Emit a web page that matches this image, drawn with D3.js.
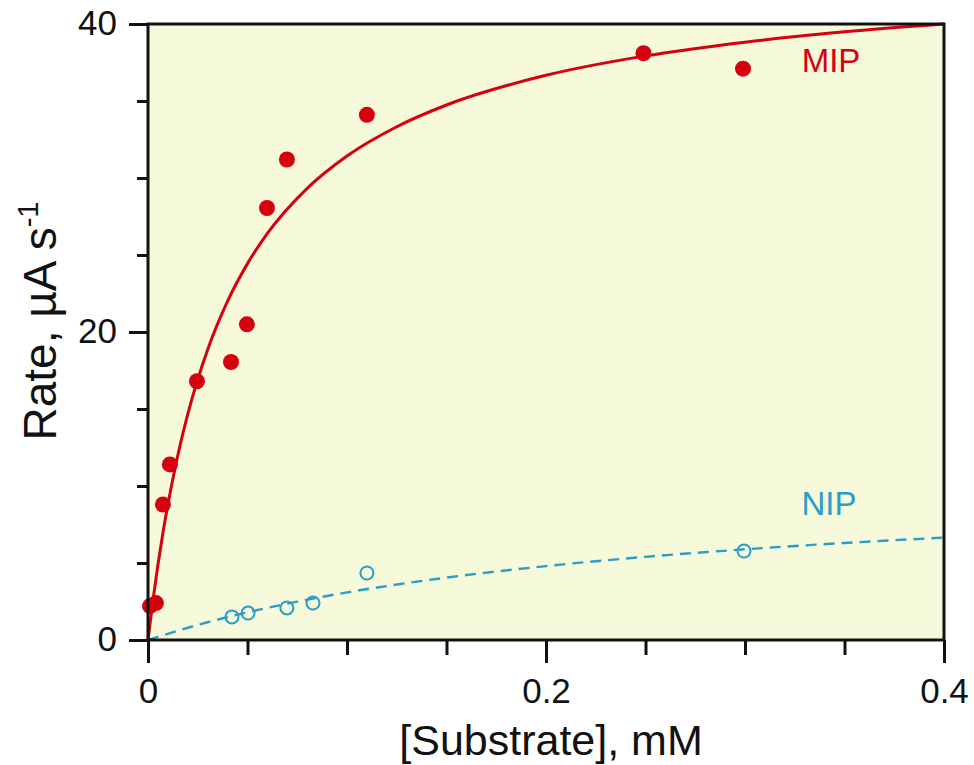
<!DOCTYPE html>
<html>
<head>
<meta charset="utf-8">
<script src="https://cdn.jsdelivr.net/npm/d3@7"></script>
<style>
  html, body { margin: 0; padding: 0; background: #fff; }
  svg { display: block; font-family: "Liberation Sans", Arial, sans-serif; }
</style>
</head>
<body>
<svg id="chart" width="974" height="765"></svg>
<script>
// Measured rates, MIP electrode (filled) and NIP electrode (open)
const mipSubstrate = [0.001, 0.004, 0.0075, 0.011, 0.0246, 0.0417, 0.0497, 0.0598, 0.0698, 0.110, 0.249, 0.299];
const mipRate      = [2.2, 2.4, 8.8, 11.4, 16.8, 18.05, 20.5, 28.05, 31.2, 34.1, 38.1, 37.1];
const nipSubstrate = [0.0422, 0.0503, 0.0698, 0.0829, 0.110, 0.2995];
const nipRate      = [1.5, 1.75, 2.08, 2.4, 4.35, 5.78];

// Fitted saturation curves
const mipFitX = [0, 0.0025, 0.005, 0.0075, 0.01, 0.015, 0.02, 0.03, 0.04, 0.05, 0.06, 0.08, 0.1, 0.125, 0.15, 0.2, 0.25, 0.3, 0.35, 0.4];
const mipFitY = [0, 2.59, 4.89, 6.95, 8.8, 12.0, 14.67, 18.86, 22.0, 24.44, 26.4, 29.33, 31.43, 33.33, 34.74, 36.67, 37.93, 38.82, 39.49, 40.0];
const nipFitX = [0, 0.025, 0.05, 0.075, 0.1, 0.125, 0.15, 0.2, 0.25, 0.3, 0.35, 0.4];
const nipFitY = [0, 0.98, 1.8, 2.49, 3.09, 3.6, 4.05, 4.8, 5.4, 5.89, 6.3, 6.65];

const xMajorTicks = [0, 0.2, 0.4];
const xMinorTicks = [0.05, 0.1, 0.15, 0.25, 0.3, 0.35];
const yMajorTicks = [0, 20, 40];
const yMinorTicks = [5, 10, 15, 25, 30, 35];

const seriesLabels = ["MIP", "NIP"];

const svg = d3.select("#chart");
const plot = { left: 148, right: 944, top: 24, bottom: 640 };

const x = d3.scaleLinear().domain([0, 0.4]).range([plot.left, plot.right]);
const y = d3.scaleLinear().domain([0, 40]).range([plot.bottom, plot.top]);

const red = "#d7000f";
const blue = "#2a9dc8";

// Plot background
svg.append("rect")
  .attr("x", plot.left).attr("y", plot.top)
  .attr("width", plot.right - plot.left).attr("height", plot.bottom - plot.top)
  .attr("fill", "#f6f9da");

// Fit lines
const line = d3.line().x(d => x(d[0])).y(d => y(d[1])).curve(d3.curveMonotoneX);

svg.append("path")
  .datum(nipFitX.map((v, i) => [v, nipFitY[i]]))
  .attr("d", line)
  .attr("fill", "none")
  .attr("stroke", blue)
  .attr("stroke-width", 2.4)
  .attr("stroke-dasharray", "11,7");

svg.append("path")
  .datum(mipFitX.map((v, i) => [v, mipFitY[i]]))
  .attr("d", line)
  .attr("fill", "none")
  .attr("stroke", red)
  .attr("stroke-width", 3);

// Data points
svg.append("g").selectAll("circle")
  .data(nipSubstrate.map((v, i) => [v, nipRate[i]]))
  .join("circle")
  .attr("cx", d => x(d[0])).attr("cy", d => y(d[1]))
  .attr("r", 6.5)
  .attr("fill", "none")
  .attr("stroke", blue)
  .attr("stroke-width", 2);

svg.append("g").selectAll("circle")
  .data(mipSubstrate.map((v, i) => [v, mipRate[i]]))
  .join("circle")
  .attr("cx", d => x(d[0])).attr("cy", d => y(d[1]))
  .attr("r", 8)
  .attr("fill", red);

// Frame
svg.append("rect")
  .attr("x", plot.left).attr("y", plot.top)
  .attr("width", plot.right - plot.left).attr("height", plot.bottom - plot.top)
  .attr("fill", "none")
  .attr("stroke", "#111")
  .attr("stroke-width", 3);

// Axes
const xMajor = d3.axisBottom(x).tickValues(xMajorTicks).tickSize(23).tickPadding(15)
  .tickFormat(d => d === 0 ? "0" : d3.format(".1f")(d));
const xMinor = d3.axisBottom(x).tickValues(xMinorTicks).tickSize(15).tickFormat("");
const yMajor = d3.axisLeft(y).tickValues(yMajorTicks).tickSize(19).tickPadding(12);
const yMinor = d3.axisLeft(y).tickValues(yMinorTicks).tickSize(11).tickFormat("");

function styleAxis(g) {
  g.select(".domain").remove();
  g.selectAll(".tick line").attr("stroke", "#111").attr("stroke-width", 3);
  g.selectAll(".tick text").attr("fill", "#111").attr("font-size", 35)
    .attr("font-family", "'Liberation Sans', Arial, sans-serif");
}

svg.append("g").attr("transform", `translate(0,${plot.bottom})`).call(xMajor).call(styleAxis);
svg.append("g").attr("transform", `translate(0,${plot.bottom})`).call(xMinor).call(styleAxis);
svg.append("g").attr("transform", `translate(${plot.left},0)`).call(yMajor).call(styleAxis)
  .selectAll(".tick text").attr("dy", "0.3em");
svg.append("g").attr("transform", `translate(${plot.left},0)`).call(yMinor).call(styleAxis);

// Axis titles
svg.append("text")
  .attr("x", 551)
  .attr("y", 755)
  .attr("text-anchor", "middle")
  .attr("font-size", 43)
  .attr("fill", "#111")
  .text("[Substrate], mM");

const yTitle = svg.append("text")
  .attr("transform", "translate(56,321) rotate(-90)")
  .attr("text-anchor", "middle")
  .attr("font-size", 46)
  .attr("fill", "#111");
yTitle.append("tspan").text("Rate, \u00b5A s");
yTitle.append("tspan").attr("font-size", 29).attr("dy", -18).text("-1");

// Series labels
svg.append("text")
  .attr("x", 831).attr("y", 72)
  .attr("text-anchor", "middle")
  .attr("font-size", 33)
  .attr("fill", red)
  .text(seriesLabels[0]);

svg.append("text")
  .attr("x", 829).attr("y", 515)
  .attr("text-anchor", "middle")
  .attr("font-size", 33)
  .attr("fill", blue)
  .text(seriesLabels[1]);
</script>
</body>
</html>
